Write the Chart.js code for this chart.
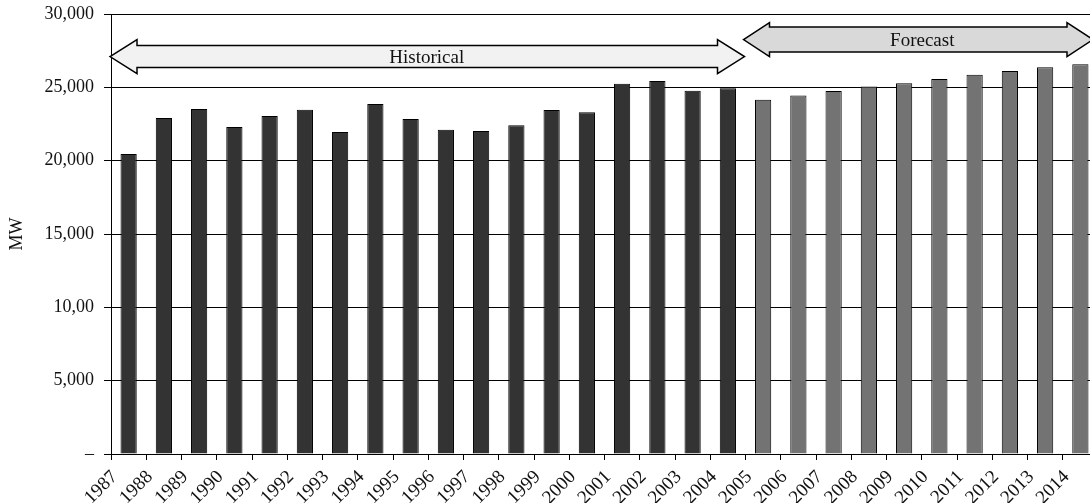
<!DOCTYPE html>
<html>
<head>
<meta charset="utf-8">
<script src="https://cdn.jsdelivr.net/npm/chart.js@4"></script>
<style>
  html, body { margin: 0; padding: 0; background: #fff; overflow: hidden; }
  #wrap { position: relative; width: 1098px; height: 503px; }
</style>
</head>
<body>
<div id="wrap"><canvas id="c"></canvas></div>
<script>
// ---- data ----
const yearLabels = ['1987','1988','1989','1990','1991','1992','1993','1994','1995','1996','1997','1998','1999','2000','2001','2002','2003','2004','2005','2006','2007','2008','2009','2010','2011','2012','2013','2014'];
const historicalMW = [20450, 22910, 23520, 22300, 23050, 23480, 21950, 23870, 22840, 22100, 22030, 22410, 23460, 23300, 25250, 25430, 24770, 24930];
const forecastMW = [24160, 24450, 24750, 25050, 25280, 25570, 25860, 26120, 26370, 26580];
const yTickValues = [0, 5000, 10000, 15000, 20000, 25000, 30000];
const yTickLabels = ['–', '5,000', '10,00', '15,000', '20,000', '25,000', '30,000'];
const arrowLabels = ['Historical', 'Forecast'];
const arrowLevels = [27100, 28260];

const nHist = historicalMW.length;
const histData = yearLabels.map((_, i) => i < nHist ? historicalMW[i] : null);
const foreData = yearLabels.map((_, i) => i >= nHist ? forecastMW[i - nHist] : null);

const serif = '"Liberation Serif", "Times New Roman", serif';

function drawDoubleArrow(ctx, x1, x2, yc, hl, hh, sh, fill, label) {
  ctx.save();
  ctx.beginPath();
  ctx.moveTo(x1, yc);
  ctx.lineTo(x1 + hl, yc - hh);
  ctx.lineTo(x1 + hl, yc - sh);
  ctx.lineTo(x2 - hl, yc - sh);
  ctx.lineTo(x2 - hl, yc - hh);
  ctx.lineTo(x2, yc);
  ctx.lineTo(x2 - hl, yc + hh);
  ctx.lineTo(x2 - hl, yc + sh);
  ctx.lineTo(x1 + hl, yc + sh);
  ctx.lineTo(x1 + hl, yc + hh);
  ctx.closePath();
  ctx.fillStyle = fill;
  ctx.fill();
  ctx.lineWidth = 1.5;
  ctx.strokeStyle = '#000';
  ctx.lineJoin = 'miter';
  ctx.stroke();
  ctx.fillStyle = '#111';
  ctx.font = '19px ' + serif;
  ctx.textAlign = 'center';
  ctx.textBaseline = 'middle';
  ctx.fillText(label.text, label.x, yc + 1);
  ctx.restore();
}

const arrowsPlugin = {
  id: 'arrows',
  afterDatasetsDraw(chart) {
    const ctx = chart.ctx;
    const xs = chart.scales.x, ys = chart.scales.y;
    const half = (xs.getPixelForValue(1) - xs.getPixelForValue(0)) / 2;
    const left = xs.getPixelForValue(0) - half - 1;
    const split = xs.getPixelForValue(nHist) - half - 2;
    const right = xs.getPixelForValue(yearLabels.length - 1) + half - 5;
    const y1 = ys.getPixelForValue(arrowLevels[0]);
    const y2 = ys.getPixelForValue(arrowLevels[1]);
    drawDoubleArrow(ctx, left, split + 1, y1, 27, 17, 11, '#f2f2f2', {text: arrowLabels[0], x: (left + split) / 2, });
    drawDoubleArrow(ctx, split, right, y2, 26, 17, 12.5, '#d9d9d9', {text: arrowLabels[1], x: (split + right) / 2 + 4});
  }
};

new Chart(document.getElementById('c'), {
  type: 'bar',
  data: {
    labels: yearLabels,
    datasets: [
      { label: 'Historical', data: histData, backgroundColor: '#333333', borderColor: '#000', borderWidth: 1,
        categoryPercentage: 1.0, barPercentage: 0.46 },
      { label: 'Forecast', data: foreData, backgroundColor: '#737373', borderColor: '#000', borderWidth: 1,
        categoryPercentage: 1.0, barPercentage: 0.46 }
    ]
  },
  options: {
    responsive: true,
    maintainAspectRatio: false,
    animation: false,
    events: [],
    layout: { padding: { top: 14, right: 0, left: 0, bottom: 0 } },
    plugins: { legend: { display: false }, tooltip: { enabled: false } },
    scales: {
      x: {
        stacked: true,
        offset: true,
        grid: { offset: true, drawOnChartArea: false, drawTicks: true, tickLength: 6, color: '#000', lineWidth: 1 },
        border: { display: true, color: '#000', width: 1 },
        ticks: {
          autoSkip: false, maxRotation: 45, minRotation: 45, labelOffset: -14, padding: 6,
          color: '#111', font: { family: serif, size: 19 }
        },
        afterFit(s) { s.height = 49; s.paddingLeft = 0; s.paddingRight = 0; }
      },
      y: {
        stacked: true,
        min: 0, max: 30000,
        afterBuildTicks(s) { s.ticks = yTickValues.map(v => ({ value: v })); },
        ticks: {
          padding: 10, color: '#111', font: { family: serif, size: 18 },
          callback(v) { const i = yTickValues.indexOf(v); return i >= 0 ? yTickLabels[i] : ''; }
        },
        grid: { color: '#000', lineWidth: 1, tickLength: 7, drawTicks: true },
        border: { display: true, color: '#000', width: 1 },
        title: { display: true, text: 'MW', color: '#111', font: { family: serif, size: 18 }, padding: { top: 6, bottom: 0 } },
        afterFit(s) { s.width = 111; s.paddingTop = 0; s.paddingBottom = 0; }
      }
    }
  },
  plugins: [arrowsPlugin]
});
</script>
</body>
</html>
